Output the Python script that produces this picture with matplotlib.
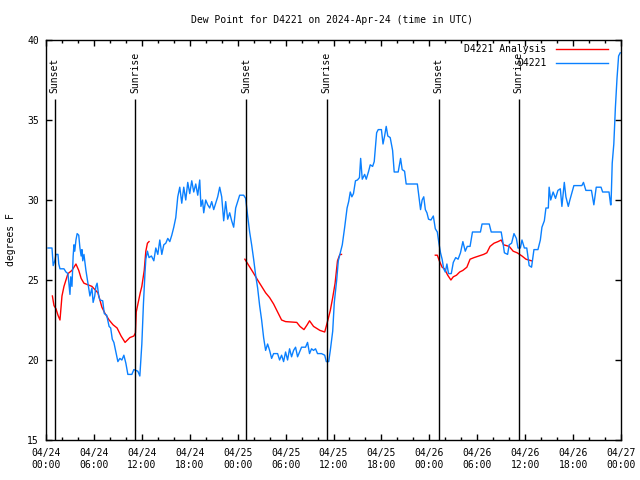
"""
Dew point time series for station D4221 (observed vs analysis), 3 days in UTC.

Output: out.png
"""

import matplotlib
matplotlib.use("Agg")
import matplotlib.pyplot as plt
import numpy as np
from matplotlib.ticker import MultipleLocator

FONT = "DejaVu Sans Mono"
FS = 7

# hours since 2024-04-24 00:00 UTC
OBS_HOURS = [
    0.25, 0.75, 0.9, 1.1, 1.25, 1.5, 1.6, 1.75, 2.25, 2.5, 2.75, 3.0, 3.1, 3.25,
    3.4, 3.5, 3.6, 3.75, 3.9, 4.1, 4.25, 4.4, 4.5, 4.6, 4.75, 5.0, 5.25, 5.5,
    5.75, 5.9, 6.1, 6.25, 6.4, 6.6, 6.75, 7.1, 7.3, 7.6, 7.9, 8.1, 8.3, 8.5,
    8.75, 9.0, 9.25, 9.5, 9.75, 10.0, 10.25, 10.75, 11.0, 11.5, 11.75, 12.0,
    12.2, 12.4, 12.5, 12.7, 12.9, 13.2, 13.5, 13.75, 14.0, 14.25, 14.5, 14.75,
    15.0, 15.25, 15.5, 15.75, 16.0, 16.25, 16.5, 16.75, 17.0, 17.25, 17.5,
    17.75, 18.0, 18.25, 18.5, 18.75, 19.0, 19.25, 19.4, 19.6, 19.75, 20.0,
    20.25, 20.5, 20.75, 21.0, 21.25, 21.5, 21.75, 22.0, 22.25, 22.5, 22.75,
    23.0, 23.25, 23.5, 23.75, 24.0, 24.25, 24.75, 25.0, 25.25, 25.5, 25.75,
    26.0, 26.25, 26.5, 26.75, 27.0, 27.25, 27.5, 27.75, 28.0, 28.25, 28.5,
    29.0, 29.25, 29.5, 29.75, 30.0, 30.25, 30.5, 30.75, 31.0, 31.25, 31.5,
    31.75, 32.0, 32.5, 32.75, 33.0, 33.25, 33.5, 33.75, 34.0, 34.5, 34.9,
    35.1, 35.4, 35.6, 35.9, 36.1, 36.4, 36.6, 36.9, 37.1, 37.4, 37.7, 37.9,
    38.1, 38.3, 38.5, 38.75, 39.0, 39.25, 39.4, 39.6, 39.9, 40.1, 40.4, 40.6,
    40.9, 41.1, 41.4, 41.6, 42.0, 42.2, 42.4, 42.6, 42.8, 43.1, 43.4, 43.6,
    44.1, 44.4, 44.6, 44.9, 45.1, 46.5, 46.7, 46.9, 47.1, 47.3, 47.5, 47.7,
    47.9, 48.2, 48.5, 48.75, 49.0, 49.2, 49.4, 49.6, 49.8, 50.0, 50.2, 50.4,
    50.75, 51.0, 51.3, 51.6, 51.9, 52.2, 52.5, 52.75, 53.1, 53.4, 54.4, 54.6,
    55.5, 55.75, 57.0, 57.2, 57.4, 57.8, 58.0, 58.3, 58.6, 58.9, 59.1, 59.4,
    59.6, 59.9, 60.2, 60.5, 60.8, 61.1, 61.6, 61.9, 62.1, 62.4, 62.6, 62.9,
    63.0, 63.2, 63.5, 63.8, 64.1, 64.4, 64.6, 64.9, 65.1, 65.4, 65.6, 66.1,
    67.1, 67.3, 67.6, 68.3, 68.6, 68.9, 69.5, 69.7, 70.5, 70.7, 70.75, 70.9,
    71.1, 71.3, 71.5, 71.7, 71.9,
]
OBS_DEWPT = [
    27.0, 27.0, 25.9, 26.2, 26.6, 26.6, 26.0, 25.7, 25.7, 25.5, 25.4, 24.1,
    25.2, 24.6, 26.5, 27.2, 26.8, 27.5, 27.9, 27.8, 27.0, 26.5, 26.9, 26.2,
    26.6, 25.6, 24.8, 24.0, 24.5, 23.6, 24.0, 24.6, 24.8, 24.0, 23.75, 23.7,
    22.9, 22.8, 22.1, 22.0, 21.3, 21.1, 20.5, 19.9, 20.1, 20.0, 20.3, 19.8,
    19.1, 19.1, 19.4, 19.3, 19.0, 21.0, 23.5, 25.5, 26.3, 26.8, 26.4, 26.5,
    26.2, 27.0, 26.6, 27.5, 26.6, 27.2, 27.3, 27.6, 27.4, 27.8, 28.3, 28.9,
    30.2, 30.8, 29.8, 30.8, 30.0, 31.1, 30.4, 31.2, 30.5, 31.0, 30.3, 31.25,
    29.6, 30.0, 29.2, 30.0, 29.7, 29.5, 29.9, 29.4, 29.8, 30.2, 30.8, 30.2,
    28.7, 29.9, 28.8, 29.2, 28.7, 28.3, 29.5, 29.9, 30.3, 30.3, 30.1, 29.0,
    28.0, 27.2, 26.3, 25.3, 24.5, 23.4, 22.5, 21.4, 20.6, 21.0, 20.6, 20.1,
    20.4, 20.4, 20.0, 20.3, 19.9, 20.5, 20.0, 20.7, 20.2, 20.6, 20.8, 20.2,
    20.5, 20.8, 20.8, 21.1, 20.4, 20.7, 20.6, 20.7, 20.4, 20.4, 20.3, 19.9,
    19.9, 20.6, 21.8, 23.6, 25.0, 26.2, 26.8, 27.2, 28.3, 29.5, 29.9, 30.5,
    30.2, 30.4, 31.2, 31.25, 31.4, 32.6, 31.3, 31.6, 31.3, 31.8, 32.2, 32.1,
    32.4, 34.2, 34.4, 34.4, 33.5, 34.0, 34.6, 34.0, 33.9, 33.1, 31.75, 31.75,
    32.6, 31.9, 31.8, 31.0, 31.0, 30.2, 29.4, 30.0, 30.2, 29.4, 29.2, 28.8,
    28.75, 29.0, 28.2, 28.0, 27.3, 26.7, 26.3, 25.7, 25.5, 26.0, 25.4, 25.4,
    26.1, 26.4, 26.3, 26.7, 27.4, 26.8, 27.1, 27.1, 28.0, 28.0, 28.5, 28.5,
    28.0, 28.0, 27.4, 26.7, 26.6, 27.2, 27.3, 27.9, 27.6, 27.0, 27.0, 27.5,
    27.0, 27.0, 25.9, 25.8, 26.9, 26.9, 27.5, 28.3, 28.7, 29.5, 29.5, 30.8,
    30.0, 30.5, 30.1, 30.6, 30.7, 29.6, 31.1, 30.2, 29.6, 30.0, 30.9, 30.9,
    31.1, 30.6, 30.6, 29.7, 30.8, 30.8, 30.5, 30.5, 29.7, 29.7, 32.3, 33.5,
    35.8, 37.6, 39.0, 39.2,
]

# analysis only exists around sunrise/sunset, nan breaks the line
ANL_HOURS = [
    0.8, 1.0, 1.25, 1.5, 1.75, 2.0, 2.25, 2.5, 2.75, 3.25, 3.75, 4.1, 4.4,
    4.75, 5.25, 5.75, 6.5, 7.0, 7.4, 7.9, 8.4, 8.9, 9.4, 9.9, 10.5, 11.0,
    11.2, 11.3, 11.8, 12.0, 12.3, 12.5, 12.7, 12.9, 18.0,
    24.9, 25.4, 25.9, 26.5, 27.0, 27.5, 28.0, 28.5, 29.0, 29.5, 30.0, 31.4,
    31.8, 32.3, 32.7, 33.0, 33.5, 34.3, 34.9, 35.3, 35.6, 35.9, 36.2, 36.5,
    36.8, 37.0, 42.0,
    48.75, 49.0, 49.25, 49.6, 49.9, 50.3, 50.7, 51.0, 51.4, 51.8, 52.2, 52.7,
    53.1, 53.6, 54.2, 54.8, 55.2, 55.6, 56.1, 56.6, 57.0, 57.3, 58.0, 58.5,
    59.0, 59.6, 60.1, 60.8,
]
ANL_DEWPT = [
    24.0, 23.4, 23.2, 22.8, 22.5, 24.0, 24.6, 25.0, 25.4, 25.6, 26.0, 25.6,
    25.1, 24.8, 24.7, 24.6, 24.2, 23.3, 22.9, 22.5, 22.2, 22.0, 21.5, 21.1,
    21.4, 21.5, 21.7, 23.0, 24.2, 24.6, 25.6, 26.8, 27.3, 27.4, np.nan,
    26.3, 25.9, 25.5, 25.0, 24.6, 24.2, 23.9, 23.5, 23.0, 22.5, 22.4, 22.35,
    22.1, 21.9, 22.2, 22.45, 22.1, 21.85, 21.75, 22.5, 23.1, 23.9, 24.8, 26.2,
    26.6, 26.6, np.nan,
    26.55, 26.55, 26.2, 25.8, 25.7, 25.3, 25.0, 25.2, 25.3, 25.5, 25.6, 25.8,
    26.3, 26.4, 26.5, 26.6, 26.7, 27.1, 27.3, 27.4, 27.5, 27.2, 27.1, 26.8,
    26.7, 26.5, 26.3, 26.2,
]

SUN_HOURS = [1.1, 11.2, 25.1, 35.15, 49.15, 59.2]
SUN_LABELS = ["Sunset", "Sunrise", "Sunset", "Sunrise", "Sunset", "Sunrise"]

TICK_HOURS = list(range(0, 73, 6))
TICK_LABELS = [
    "04/24\n00:00", "04/24\n06:00", "04/24\n12:00", "04/24\n18:00",
    "04/25\n00:00", "04/25\n06:00", "04/25\n12:00", "04/25\n18:00",
    "04/26\n00:00", "04/26\n06:00", "04/26\n12:00", "04/26\n18:00",
    "04/27\n00:00",
]


def main():
    plt.rcParams["font.family"] = FONT
    plt.rcParams["font.size"] = FS

    fig = plt.figure(figsize=(6.4, 4.8), dpi=100)
    ax = fig.add_axes([46 / 640, 40 / 480, 575 / 640, 400 / 480])

    ax.plot(ANL_HOURS, ANL_DEWPT, color="#ff0000", linewidth=1.0,
            label="D4221 Analysis")
    ax.plot(OBS_HOURS, OBS_DEWPT, color="#0a80ff", linewidth=1.0,
            label="D4221")

    # sunrise / sunset markers
    for h, lab in zip(SUN_HOURS, SUN_LABELS):
        ax.vlines(h, 15, 36.3, color="black", linewidth=1.0)
        ax.text(h, 36.7, lab, rotation=90, ha="center", va="bottom",
                fontsize=FS)

    ax.set_xlim(0, 72)
    ax.set_ylim(15, 40)
    ax.set_xticks(TICK_HOURS)
    ax.set_xticklabels(TICK_LABELS)
    ax.xaxis.set_minor_locator(MultipleLocator(2))
    ax.set_yticks([15, 20, 25, 30, 35, 40])

    ax.tick_params(which="both", direction="in", top=True, right=True,
                   width=1.0, labelsize=FS)
    ax.tick_params(which="major", length=4, pad=5)
    ax.tick_params(axis="x", which="major", pad=6)
    ax.tick_params(which="minor", length=2)
    for sp in ax.spines.values():
        sp.set_linewidth(1.0)

    ax.legend(loc="upper right", bbox_to_anchor=(1 - 13 / 575, 1 - 4 / 400),
              frameon=False, markerfirst=False, borderpad=0,
              borderaxespad=0, handlelength=5.4, handletextpad=0.9,
              labelspacing=0.45, fontsize=FS)

    fig.text(332 / 640, 1 - 20 / 480,
             "Dew Point for D4221 on 2024-Apr-24 (time in UTC)",
             ha="center", va="center", fontsize=FS)
    fig.text(11 / 640, 0.5, "degrees F", rotation=90, ha="center",
             va="center", fontsize=FS)

    fig.savefig("out.png", dpi=100)
    plt.close(fig)


if __name__ == "__main__":
    main()
